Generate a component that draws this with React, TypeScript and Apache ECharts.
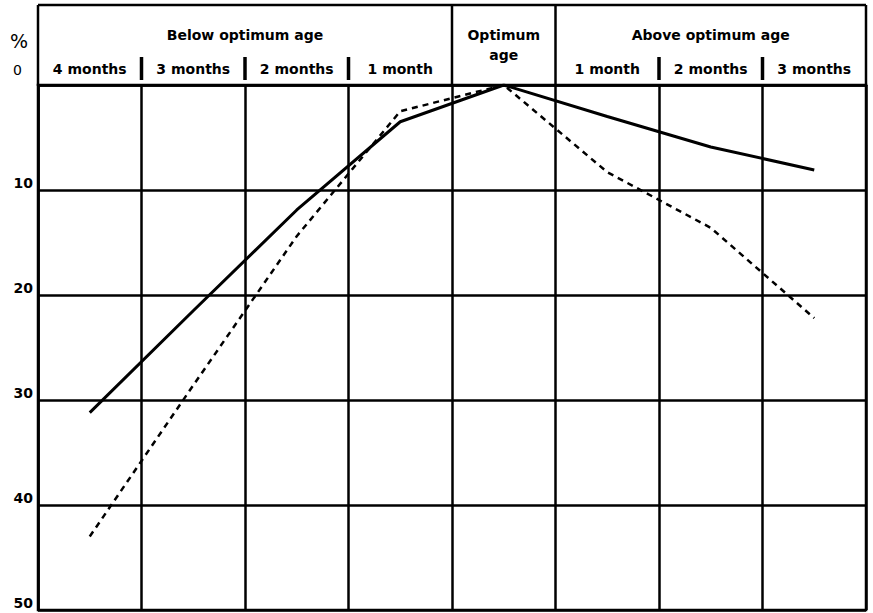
import React, { useEffect, useRef } from "react";
import * as echarts from "echarts";

// Months relative to optimum age (categories)
const categories = ["-4", "-3", "-2", "-1", "0", "+1", "+2", "+3"];
const tickLabels = ["4 months", "3 months", "2 months", "1 month", "", "1 month", "2 months", "3 months"];
const groupLabels = ["Below optimum age", "Optimum\nage", "Above optimum age"];
// Percentage values (axis inverted: 0 at top)
const solidValues = [31.2, 21.5, 11.9, 3.5, 0, 3.0, 5.9, 8.1];
const dashedValues = [43.0, 28.6, 14.4, 2.5, 0, 8.3, 13.6, 22.2];
const yTicks = [0, 10, 20, 30, 40, 50];

const W = 873;
const H = 613;
const G = { left: 38, right: 7, top: 85, bottom: 3 };
const FONT = "'DejaVu Sans', sans-serif";

export default function App() {
  const ref = useRef<HTMLDivElement>(null);
  useEffect(() => {
    if (!ref.current) return;
    const chart = echarts.init(ref.current, null, { renderer: "svg" });
    const colW = (W - G.left - G.right) / categories.length;
    const xb = (i: number) => G.left + colW * i;
    const lineW = 2.5;
    const headerTop = 5;
    const sepTop = 57;
    const sepBottom = 80;
    const graphic: any[] = [];
    // top border
    graphic.push({ type: "line", shape: { x1: xb(0), y1: headerTop, x2: xb(8), y2: headerTop }, style: { stroke: "#000", lineWidth: lineW } });
    // full-height header verticals
    [0, 4, 5, 8].forEach((i) => {
      graphic.push({ type: "line", shape: { x1: xb(i), y1: headerTop, x2: xb(i), y2: G.top }, style: { stroke: "#000", lineWidth: lineW } });
    });
    // short separators
    [1, 2, 3, 6, 7].forEach((i) => {
      graphic.push({ type: "line", shape: { x1: xb(i), y1: sepTop, x2: xb(i), y2: sepBottom }, style: { stroke: "#000", lineWidth: 3.5 } });
    });
    const textStyle = { fill: "#000", font: `bold 14px ${FONT}`, align: "center", verticalAlign: "middle" };
    graphic.push({ type: "text", x: (xb(0) + xb(4)) / 2, y: 35, style: { ...textStyle, text: groupLabels[0] } });
    graphic.push({ type: "text", x: (xb(4) + xb(5)) / 2, y: 45, style: { ...textStyle, text: groupLabels[1], lineHeight: 20 } });
    graphic.push({ type: "text", x: (xb(5) + xb(8)) / 2, y: 35, style: { ...textStyle, text: groupLabels[2] } });
    graphic.push({ type: "text", x: 19, y: 41, style: { fill: "#000", font: `19px ${FONT}`, align: "center", verticalAlign: "middle", text: "%" } });

    chart.setOption({
      animation: false,
      backgroundColor: "#fff",
      grid: { ...G, show: true, borderColor: "#000", borderWidth: lineW, backgroundColor: "transparent" },
      xAxis: {
        type: "category",
        position: "top",
        data: categories,
        boundaryGap: true,
        axisLine: { show: true, lineStyle: { color: "#000", width: lineW } },
        axisTick: { show: false },
        axisLabel: {
          interval: 0,
          margin: 9,
          color: "#000",
          fontFamily: FONT,
          fontSize: 14,
          fontWeight: "bold",
          formatter: (_v: string, i: number) => tickLabels[i],
        },
        splitLine: { show: true, interval: 0, lineStyle: { color: "#000", width: lineW } },
      },
      yAxis: {
        type: "value",
        inverse: true,
        min: yTicks[0],
        max: yTicks[yTicks.length - 1],
        interval: 10,
        axisLine: { show: true, lineStyle: { color: "#000", width: lineW } },
        axisTick: { show: false },
        axisLabel: {
          margin: 5,
          color: "#000",
          fontFamily: FONT,
          fontSize: 14,
          fontWeight: "bold",
          verticalAlign: "bottom",
          formatter: (v: number) => (v === 0 ? "{z|0}" : "{a|" + v + "}"),
          rich: {
            z: { fontSize: 14, fontWeight: "normal", fontFamily: FONT, color: "#000", padding: [0, 11, 8, 0] },
            a: { fontSize: 14, fontWeight: "bold", fontFamily: FONT, color: "#000" },
          },
        },
        splitLine: { show: true, lineStyle: { color: "#000", width: lineW } },
      },
      series: [
        {
          type: "line",
          data: solidValues,
          symbol: "none",
          lineStyle: { color: "#000", width: 3 },
          z: 5,
        },
        {
          type: "line",
          data: dashedValues,
          symbol: "none",
          lineStyle: { color: "#000", width: 2.5, type: [6, 5] },
          z: 5,
        },
      ],
      graphic,
    });
    return () => chart.dispose();
  }, []);
  return <div ref={ref} style={{ position: "absolute", left: 0, top: 0, width: W, height: H }} />;
}
